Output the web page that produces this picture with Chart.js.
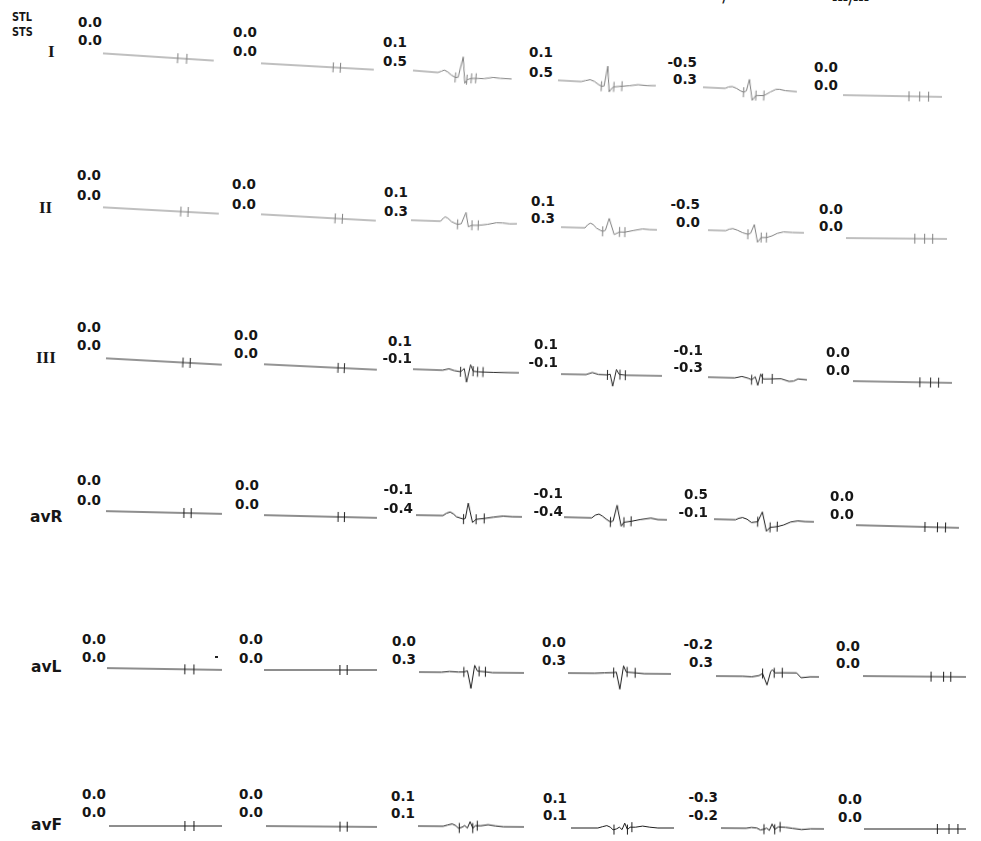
<!DOCTYPE html>
<html>
<head>
<meta charset="utf-8">
<script src="https://cdn.jsdelivr.net/npm/chart.js@4.4.1/dist/chart.umd.min.js"></script>
<style>
  html, body { margin: 0; padding: 0; background: #fff; }
  #page { position: relative; width: 981px; height: 841px; overflow: hidden; background: #fff;
          font-family: "DejaVu Sans", Verdana, sans-serif; color: #161616; }
  .num { position: absolute; transform: translate(-100%, -50%); font-size: 13.5px; font-weight: bold;
         white-space: nowrap; line-height: 1; }
  .lead { position: absolute; transform: translate(0, -50%); font-weight: bold; line-height: 1; white-space: nowrap; }
  canvas { position: absolute; }
</style>
</head>
<body>
<div id="page"></div>
<script>
const leads = ['I', 'II', 'III', 'avR', 'avL', 'avF'];

// ST level (top line) and ST slope (second line), one value per panel
const stlValues = [
  [0.0, 0.0, 0.1, 0.1, -0.5, 0.0],
  [0.0, 0.0, 0.1, 0.1, -0.5, 0.0],
  [0.0, 0.0, 0.1, 0.1, -0.1, 0.0],
  [0.0, 0.0, -0.1, -0.1, 0.5, 0.0],
  [0.0, 0.0, 0.0, 0.0, -0.2, 0.0],
  [0.0, 0.0, 0.1, 0.1, -0.3, 0.0],
];
const stsValues = [
  [0.0, 0.0, 0.5, 0.5, 0.3, 0.0],
  [0.0, 0.0, 0.3, 0.3, 0.0, 0.0],
  [0.0, 0.0, -0.1, -0.1, -0.3, 0.0],
  [0.0, 0.0, -0.4, -0.4, -0.1, 0.0],
  [0.0, 0.0, 0.3, 0.3, 0.3, 0.0],
  [0.0, 0.0, 0.1, 0.1, -0.2, 0.0],
];

// median beats: [sample, mV]
const waveI = [
  [[0, 0], [123, 0]],
  [[0, 0], [125, 0]],
  [[0, 0], [28, 0], [32, 0.1], [35, 0.18], [39, 0.08], [43, -0.08], [48, -0.22], [51, -0.2], [55, 1.1], [59, -0.53], [62, -0.28], [66, -0.2], [73, -0.17], [80, -0.15], [90, -0.03], [98, -0.05], [111, -0.03]],
  [[0, 0], [26, 0], [31, 0.08], [36, 0.15], [41, 0.05], [45, -0.1], [49, -0.22], [52, -0.2], [55, 1.05], [58, -0.55], [61, -0.3], [63, -0.22], [72, -0.15], [80, -0.1], [90, 0], [100, -0.03], [110, 0]],
  [[0, 0], [25, 0], [29, 0.1], [33, 0.13], [38, 0.03], [42, -0.1], [46, -0.19], [49, -0.1], [52, 0.63], [56, -0.67], [60, -0.36], [69, -0.34], [76, -0.1], [82, 0.08], [86, 0.1], [93, 0.03], [106, 0]],
  [[0, 0], [111, 0]],
];
const marksI = [
  [[83, 0], [93, 0]],
  [[80, 0], [88, 0]],
  [[48, -0.22], [61, -0.3], [66, -0.2], [71, -0.17]],
  [[49, -0.22], [63, -0.22], [72, -0.15]],
  [[46, -0.19], [60, -0.36], [69, -0.34]],
  [[74, 0], [86, 0], [96, 0]],
];

const waveII = [
  [[0, 0], [128, 0]],
  [[0, 0], [127, 0]],
  [[0, 0], [33, 0], [36, 0.2], [38, 0.28], [41, 0.2], [45, 0], [49, -0.1], [52, -0.16], [56, -0.12], [61, 0.6], [64, -0.29], [68, -0.19], [75, -0.18], [85, -0.1], [95, 0.02], [102, 0.02], [110, -0.02], [118, 0]],
  [[0, 0], [27, 0], [30, 0.2], [33, 0.3], [36, 0.22], [40, 0], [44, -0.12], [47, -0.19], [50, -0.12], [54, 0.63], [60, -0.37], [66, -0.2], [72, -0.2], [82, -0.08], [92, 0.03], [100, 0], [108, 0]],
  [[0, 0], [20, 0], [24, 0.1], [28, 0.14], [33, 0.05], [39, -0.1], [45, -0.19], [48, -0.12], [52, 0.43], [56, -0.67], [60, -0.37], [66, -0.36], [72, -0.25], [78, -0.08], [85, 0.02], [95, 0], [108, 0]],
  [[0, 0], [113, 0]],
];
const marksII = [
  [[86, 0], [94, 0]],
  [[82, 0], [90, 0]],
  [[52, -0.16], [68, -0.19], [75, -0.18]],
  [[47, -0.19], [66, -0.2], [72, -0.2]],
  [[45, -0.19], [60, -0.37], [66, -0.36]],
  [[77, 0], [88, 0], [97, 0]],
];

const waveIII = [
  [[0, 0], [128, 0]],
  [[0, 0], [125, 0]],
  [[0, 0], [33, 0], [40, 0.1], [46, 0], [53, -0.06], [57, 0.15], [60, -0.7], [64, 0.4], [67, 0], [73, -0.03], [90, -0.03], [118, 0]],
  [[0, 0], [28, 0], [35, 0.13], [42, 0.02], [52, 0], [55, 0.05], [58, -0.7], [62, 0.35], [65, 0.05], [72, 0], [113, 0]],
  [[0, 0], [30, 0], [38, 0.1], [45, 0], [49, -0.09], [53, 0.1], [56, -0.43], [59, 0.28], [62, -0.02], [72, 0], [82, 0.02], [91, -0.13], [96, -0.1], [101, 0.04], [111, 0]],
  [[0, 0], [111, 0]],
];
const marksIII = [
  [[85, 0], [93, 0]],
  [[82, 0], [89, 0]],
  [[53, -0.06], [67, 0], [72, -0.03], [78, -0.03]],
  [[52, 0], [66, 0.03], [72, 0]],
  [[49, -0.09], [61, 0], [72, 0]],
  [[75, 0], [87, 0], [96, 0]],
];

const waveAvR = [
  [[0, 0], [128, 0]],
  [[0, 0], [125, 0]],
  [[0, 0], [30, 0], [34, 0.15], [38, 0.23], [42, 0.1], [45, -0.06], [53, -0.2], [55, -0.15], [58, 0.8], [63, -0.4], [67, -0.2], [76, -0.14], [86, -0.05], [97, 0.03], [107, 0], [118, 0]],
  [[0, 0], [31, 0], [35, 0.18], [39, 0.25], [43, 0.12], [47, -0.05], [52, -0.23], [55, -0.15], [59, 0.83], [64, -0.47], [67, -0.22], [75, -0.15], [85, -0.03], [97, 0.08], [105, 0], [115, 0]],
  [[0, 0], [24, 0], [28, 0.1], [32, 0.15], [37, 0.05], [42, -0.15], [49, -0.09], [54, 0.53], [59, -0.67], [63, -0.42], [71, -0.36], [78, -0.25], [86, -0.05], [94, 0.03], [102, 0], [112, 0]],
  [[0, 0], [115, 0]],
];
const marksAvR = [
  [[86, 0], [94, 0]],
  [[82, 0], [89, 0]],
  [[53, -0.2], [67, -0.2], [76, -0.14]],
  [[52, -0.23], [67, -0.22], [75, -0.15]],
  [[49, -0.09], [63, -0.42], [71, -0.36]],
  [[77, 0], [91, 0], [100, 0]],
];

const waveAvL = [
  [[0, 0], [127, 0]],
  [[0, 0], [125, 0]],
  [[0, 0], [25, 0], [34, 0.05], [44, 0.02], [50, 0.03], [54, 0.1], [58, -1.0], [62, 0.45], [65, 0.1], [67, 0.08], [74, 0.05], [82, 0], [117, 0]],
  [[0, 0], [30, 0], [41, 0.03], [51, 0.05], [54, 0.08], [58, -0.98], [62, 0.48], [65, 0.1], [68, 0.08], [75, 0.05], [85, 0], [115, 0]],
  [[0, 0], [30, 0], [40, -0.03], [48, 0.05], [52, 0.18], [57, -0.53], [61, 0.3], [63, 0.43], [66, 0.23], [75, 0.24], [90, 0.24], [95, -0.06], [105, 0], [115, 0]],
  [[0, 0], [115, 0]],
];
const marksAvL = [
  [[86, 0], [96, 0]],
  [[84, 0], [92, 0]],
  [[50, 0.03], [67, 0.08], [74, 0.05]],
  [[51, 0.05], [66, 0.1], [75, 0.05]],
  [[52, 0.18], [65, 0.23], [74, 0.24]],
  [[76, 0], [90, 0], [98, 0]],
];

const waveAvF = [
  [[0, 0], [125, 0]],
  [[0, 0], [123, 0]],
  [[0, 0], [28, 0], [33, 0.08], [38, 0.15], [42, 0.05], [45, -0.12], [49, -0.05], [52, 0.05], [55, -0.1], [58, 0.3], [61, -0.1], [64, 0.05], [70, 0.05], [78, 0.12], [86, 0.05], [95, 0], [118, 0]],
  [[0, 0], [30, 0], [35, 0.08], [40, 0.15], [44, 0.05], [47, -0.12], [51, -0.05], [54, 0.05], [57, -0.1], [60, 0.3], [63, -0.1], [66, 0.05], [72, 0.05], [80, 0.12], [88, 0.05], [97, 0], [115, 0]],
  [[0, 0], [28, 0], [34, 0.05], [40, 0.02], [44, -0.1], [48, -0.05], [51, 0.02], [54, -0.12], [57, 0.28], [60, -0.05], [64, 0.1], [72, 0.08], [80, 0.02], [90, -0.05], [100, 0], [115, 0]],
  [[0, 0], [114, 0]],
];
const marksAvF = [
  [[84, 0], [94, 0]],
  [[82, 0], [90, 0]],
  [[46, -0.1], [61, -0.1], [66, 0.05]],
  [[48, -0.1], [63, -0.1], [68, 0.05]],
  [[48, -0.05], [60, -0.05], [66, 0.1]],
  [[82, 0], [95, 0], [105, 0]],
];

const waves = [waveI, waveII, waveIII, waveAvR, waveAvL, waveAvF];
const marks = [marksI, marksII, marksIII, marksAvR, marksAvL, marksAvF];

// page layout in px: trace start x, baseline y at start, baseline y at end
const traceSpots = [
  [[97, 53, 61], [255, 63, 70], [407, 70, 79], [552, 80, 86], [697, 87, 92], [837, 95, 97]],
  [[97, 207, 214], [255, 214, 221], [405, 220, 224], [555, 227, 230], [702, 230, 233], [840, 238, 239]],
  [[100, 358, 365], [258, 364, 370], [407, 369, 373], [555, 374, 376], [702, 377, 380], [847, 381, 383]],
  [[100, 511, 514], [258, 515, 518], [410, 515, 517], [558, 517, 520], [708, 519, 522], [850, 525, 528]],
  [[101, 668, 670], [258, 670, 670], [413, 672, 673], [562, 673, 674], [710, 676, 677], [857, 676, 677]],
  [[103, 826, 826], [260, 826, 827], [412, 826, 827], [565, 828, 828], [715, 828, 829], [858, 829, 829]],
];
// right edge x, STL line y, STS line y
const numberSpots = [
  [[102, 23, 41], [257, 33, 52], [407, 43, 62], [553, 53, 73], [697, 63, 80], [838, 68, 86]],
  [[101, 176, 196], [256, 185, 205], [408, 193, 212], [555, 202, 219], [700, 205, 223], [843, 210, 227]],
  [[101, 328, 346], [258, 336, 354], [412, 342, 359], [558, 345, 363], [703, 351, 368], [850, 353, 371]],
  [[101, 481, 501], [259, 486, 505], [413, 490, 509], [563, 494, 512], [708, 495, 513], [854, 497, 515]],
  [[106, 640, 658], [263, 640, 659], [416, 642, 660], [566, 643, 661], [713, 645, 663], [860, 647, 664]],
  [[106, 795, 813], [263, 795, 813], [415, 797, 814], [567, 799, 816], [718, 798, 816], [862, 800, 818]],
];
const leadSpots = [[48, 51], [39, 207], [36, 357], [30, 518], [31, 668], [31, 826]];
const inkColors = ['#808080', '#808080', '#2a2a2a', '#1c1c1c', '#1c1c1c', '#1c1c1c'];

const page = document.getElementById('page');

const addText = (className, text, left, top, style) => {
  const node = document.createElement('div');
  node.className = className;
  node.textContent = text;
  node.style.left = `${left}px`;
  node.style.top = `${top}px`;
  Object.assign(node.style, style || {});
  page.appendChild(node);
  return node;
};

// header bits
const headStyle = { fontSize: '11.5px', transform: 'translate(0,-50%) scaleX(0.85)', transformOrigin: '0 50%' };
addText('lead', 'STL', 12, 18, headStyle);
addText('lead', 'STS', 12, 33, headStyle);
addText('lead', '---/---', 706, -3, { fontSize: '13px' });
addText('lead', '---/---', 832, -1, { fontSize: '13px' });
const speck = document.createElement('div');
Object.assign(speck.style, { position: 'absolute', left: '215px', top: '656px', width: '3px', height: '2px', background: '#222' });
page.appendChild(speck);

const formatValue = (value) => value.toFixed(1);

leads.forEach((lead, r) => {
  const serif = r < 3;
  addText('lead', lead, leadSpots[r][0], leadSpots[r][1], {
    fontFamily: serif ? '"Liberation Serif", "DejaVu Serif", serif' : '"DejaVu Sans", sans-serif',
    fontSize: serif ? '17px' : '15.5px',
  });

  for (let c = 0; c < 6; c++) {
    const [nx, ny1, ny2] = numberSpots[r][c];
    addText('num', formatValue(stlValues[r][c]), nx, ny1);
    addText('num', formatValue(stsValues[r][c]), nx, ny2);

    const wave = waves[r][c];
    const len = wave[wave.length - 1][0];
    const [x0, y0, y1] = traceSpots[r][c];
    const angle = (Math.atan2(y1 - y0, len) * 180) / Math.PI;

    const canvas = document.createElement('canvas');
    canvas.width = len;
    canvas.height = 60;
    canvas.style.left = `${x0}px`;
    canvas.style.top = `${y0 - 30}px`;
    canvas.style.width = `${len}px`;
    canvas.style.height = '60px';
    canvas.style.transformOrigin = '0 30px';
    canvas.style.transform = `rotate(${angle}deg)`;
    page.appendChild(canvas);

    new Chart(canvas, {
      type: 'scatter',
      data: {
        datasets: [
          {
            data: wave.map(([x, y]) => ({ x, y })),
            showLine: true,
            borderColor: inkColors[r],
            borderWidth: 1,
            pointRadius: 0,
            tension: 0,
          },
          {
            data: marks[r][c].map(([x, y]) => ({ x, y })),
            showLine: false,
            pointStyle: 'line',
            rotation: 90,
            pointRadius: 5,
            pointBorderWidth: 1,
            pointBorderColor: inkColors[r],
            borderColor: inkColors[r],
          },
        ],
      },
      options: {
        responsive: false,
        animation: false,
        events: [],
        layout: { padding: 0 },
        plugins: { legend: { display: false }, tooltip: { enabled: false } },
        scales: {
          x: { type: 'linear', display: false, min: 0, max: len },
          y: { display: false, min: -1.5, max: 1.5 },
        },
      },
    });
  }
});
</script>
</body>
</html>
